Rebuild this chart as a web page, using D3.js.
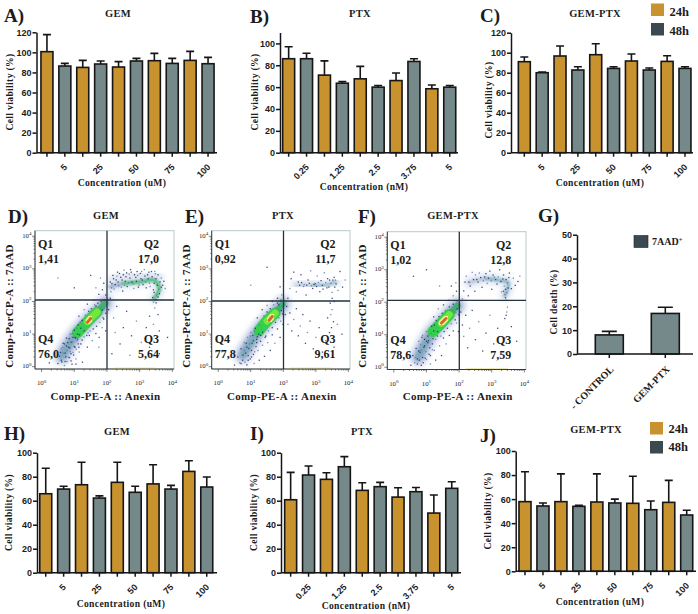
<!DOCTYPE html>
<html><head><meta charset="utf-8">
<script src="https://cdn.jsdelivr.net/npm/d3@7"></script>
<style>
html,body{margin:0;padding:0;background:#fff}
svg{display:block}
text{fill:#1c1c1c}
.serif{font-family:"Liberation Serif",serif;font-weight:700}
.sans{font-family:"Liberation Sans",sans-serif;font-weight:700}
</style></head><body>
<svg id="c" width="698" height="614"></svg>
<script>
// ---------- viability data (24h, 48h alternating) ----------
const umLabels = ["", "5", "", "25", "", "50", "", "75", "", "100"];
const nmLabels = ["", "0.25", "", "1.25", "", "2.5", "", "3.75", "", "5"];
const aValues = [100.7,86.4,85,88.4,85.4,91.4,91.7,89,92,88.7];
const aTops   = [117.7,89,92,91.4,90.8,94,99,94,101,95];
const bValues = [86,86,71,63.6,67.6,60,66,83.5,58.5,60];
const bTops   = [97,91,84,65,79,61.5,73,86,62,61.5];
const cValues = [91,80,96.7,82.7,98,84.3,91.7,82.7,91.3,84.3];
const cTops   = [95.7,80.7,106.7,86,109,86,98.7,84.7,97,86];
const hValues = [65.8,69.7,73.3,62.2,75.3,67,74,69.7,84.4,71.4];
const hTops   = [87,72,92,64,92,72,90,72.8,93.3,79.7];
const iValues = [60.8,81.4,77.8,88.3,68.6,71.7,63,67.5,49.7,70.3];
const iTops   = [83.6,88.9,83.3,96.7,75,75.3,70.8,71,64.7,75.8];
const jValues = [57.9,54.3,57.9,54,57.6,56.8,56.5,51.2,57.3,46.8];
const jTops   = [82.8,56.8,81,54.8,81,60,79,58.4,75.6,50.7];
const gCategories = ["- CONTROL","GEM-PTX"];
const gValues = [8,17];
const gTops = [9.5,19.6];
const ticks120 = [0,20,40,60,80,100,120];
const ticks100 = [0,20,40,60,80,100];
const ticks50 = [0,10,20,30,40,50];

// ---------- flow cytometry: quadrant labels ----------
const gemQuadrants = ["1,41","17,0","5,64","76,0"];
const ptxQuadrants = ["0,92","11,7","9,61","77,8"];
const comboQuadrants = ["1,02","12,8","7,59","78,6"];

// ---------- flow cytometry: density ridges (log10 x, log10 y) ----------
const gemMain = [[.62,.32],[.85,.7],[1.1,1.05],[1.4,1.38],[1.7,1.68],[1.95,1.95]];
const gemArcA = [[2.1,2.45],[2.5,2.55],[3,2.6],[3.45,2.65],[3.6,2.4],[3.45,2.1]];
const gemArcB = [[2.15,2.65],[2.7,2.8],[3.2,2.78],[3.6,2.75]];
const ptxMain = [[.75,.35],[1,.75],[1.25,1.1],[1.5,1.4],[1.75,1.65],[1.98,1.92]];
const ptxArcA = [[2.4,2.5],[2.9,2.5],[3.3,2.5],[3.6,2.6]];
const comboMain = [[.75,.3],[.95,.7],[1.2,1.1],[1.45,1.35],[1.7,1.62],[1.95,1.9]];
const comboArcA = [[2.3,2.6],[2.8,2.72],[3.2,2.68],[3.5,2.6],[3.4,2.2]];

// ---------- flow cytometry: individual events (log10 x, log10 y) ----------
const gemDots = [[.5,.1],[.55,.32],[.6,.55],[.62,.15],[.66,.72],[.7,.04],[.72,.42],[.76,.88],[.78,.16],[.82,.6],[.85,.28],[.88,1],[.9,.75],[.93,.08],[.96,.44],[1,1.12],[1.02,.6],[1.05,.24],[1.1,.85],[1.12,1.28],[1.15,.45],[1.2,.7],[1.25,.14],[1.3,.92],[1.4,.6],[1.46,.96],[1.55,.8],[1.66,1.02],[1.76,.9],[1.85,1.2],[1.9,1.46],[1.96,1.1],[1.3,1.75],[1.14,1.55],[1.4,1.92],[1.6,2.05],[1.75,2.22],[1.86,2.36],[1.66,2.42],[1.9,2.56],[1.96,2.2],[1.8,2.72],[1.5,2.8],[1,2.42],[.5,2.72],[.24,.12],[1.05,.08],[1.75,.6],[2.05,1.75],[2.1,2.1],[2.12,2.3],[2.15,2.55],[2.18,2.8],[2.22,2.38],[2.28,2.66],[2.32,2.9],[2.36,2.48],[2.42,2.74],[2.48,2.32],[2.52,2.96],[2.56,2.62],[2.62,2.46],[2.68,2.84],[2.72,2.98],[2.76,2.6],[2.82,2.4],[2.88,2.74],[2.92,2.92],[2.98,2.5],[3.02,2.86],[3.08,2.66],[3.14,2.98],[3.2,2.42],[3.24,2.82],[3.3,2.56],[3.36,2.92],[3.42,2.36],[3.48,2.85],[3.54,2.5],[3.6,2.24],[3.66,2.72],[3.7,2.5],[3.74,2.62],[3.78,2.4],[3.4,2.12],[3.5,1.96],[3.46,1.8],[3.56,1.6],[3.3,1.55],[3.42,1.3],[3.6,1.1],[3.2,1.2],[2.9,1.4],[2.6,1.7],[2.3,1.85],[2.2,1.5],[2.5,1.2],[2.75,.95],[3.05,.75],[3.3,.6],[3.6,.4],[2.25,1.05],[2.4,.7],[2.15,.4],[2.7,.35],[3.85,.9],
 [2.1,2.6],[2.14,2.42],[2.2,2.7],[2.25,2.52],[2.3,2.78],[2.34,2.6],[2.38,2.86],[2.44,2.44],[2.46,2.66],[2.5,2.82],[2.54,2.5],[2.58,2.76],[2.6,2.88],[2.66,2.58],[2.7,2.72],[2.74,2.9],[2.8,2.54],[2.84,2.82],[2.9,2.62],[2.94,2.8],[2.96,2.44],[3.04,2.7],[3.06,2.92],[3.1,2.52],[3.16,2.78],[3.18,2.6],[3.26,2.7],[3.28,2.9],[3.32,2.46],[3.38,2.76],[3.44,2.56],[3.46,2.92],[3.5,2.7],[3.56,2.82],[3.58,2.38],[3.62,2.6],[3.66,2.44],[3.52,2.2],[3.44,2.28],[3.5,2.06],[3.42,1.98],[3.56,2.14]];
const gemFringe = [[.7,.7],[.78,.5],[.84,.86],[.9,.4],[.94,1.02],[1,.62],[1.04,.88],[1.08,1.18],[1.12,.7],[1.16,.98],[1.18,1.36],[1.24,.82],[1.3,1.1],[1.34,1.58],[1.38,.96],[1.44,1.7],[1.48,1.1],[1.52,1.78],[1.58,1.16],[1.62,1.9],[1.68,1.24],[1.72,1.95],[1.78,1.36],[1.82,2],[1.88,1.5],[1.92,2.05],[1.96,1.64],[.6,.2],[.66,.42],[.72,.16],[.76,.64],[.82,.3],[.86,.58],[.9,.18],[.94,.76],[.98,.36],[1.02,.9],[1.06,.54],[1.1,1],[1.14,.6],[.64,.6],[.58,.44],[.74,.3],[.88,.46],[.8,.74],[.96,.9],[1.08,.8],[1.2,1.18],[1.24,1.42],[1.42,1.04],[1.66,1.86],[1.86,1.74],[1.92,1.78]];
const ptxDots = [[.5,.05],[.6,.3],[.66,.12],[.7,.55],[.75,.2],[.8,.74],[.84,.42],[.88,.06],[.9,.9],[.94,.56],[.98,.24],[1,1.05],[1.04,.72],[1.08,.38],[1.1,.1],[1.14,1.18],[1.18,.84],[1.22,.5],[1.26,.2],[1.3,.96],[1.36,.66],[1.42,.32],[1.46,.94],[1.52,.74],[1.6,.5],[1.66,.98],[1.74,.72],[1.82,1.16],[1.9,.9],[1.98,1.3],[1.2,1.5],[1.35,1.75],[1.5,1.88],[1.66,2],[1.82,2.1],[1.95,2.2],[1.9,2.45],[1.5,3.05],[1,2.5],[2.06,1.6],[2.1,1.85],[2.14,1.3],[2.2,1.65],[2.26,1.1],[2.32,1.45],[2.4,1.78],[2.46,.95],[2.52,1.25],[2.6,1.6],[2.68,.72],[2.74,1.05],[2.82,1.4],[2.92,.55],[3,.9],[3.1,1.2],[3.2,.45],[3.3,.8],[3.36,1.5],[3.42,1.05],[3.5,1.75],[3.44,1.95],[3.56,.6],[3.66,1.3],[3.8,1],[2.14,2.1],[2.2,2.4],[2.24,2.7],[2.32,2.9],[2.4,2.3],[2.46,2.6],[2.54,2.82],[2.62,2.46],[2.7,2.2],[2.76,2.66],[2.84,2.94],[2.9,2.4],[2.98,2.55],[3.04,2.78],[3.12,2.3],[3.2,2.5],[3.26,2.88],[3.34,2.42],[3.42,2.66],[3.5,2.28],[3.56,2.74],[3.62,2.54],[3.68,2.34],[3.74,2.92],[3.82,2.44],[3.9,2.66],
 [2.5,2.5],[2.56,2.58],[2.64,2.52],[2.72,2.5],[2.8,2.56],[2.86,2.48],[2.94,2.52],[3.02,2.46],[3.08,2.58],[3.16,2.64],[3.22,2.38],[3.3,2.58],[3.36,2.7],[3.4,2.44],[3.46,2.56],[3.52,2.66],[3.58,2.44],[3.6,2.66],[3.5,2.1],[3.56,2],[3.46,1.6],[3.54,1.38],[3.48,1.2]];
const ptxFringe = [[.8,.5],[.86,.72],[.92,.34],[.98,.94],[1.02,.5],[1.08,.8],[1.12,1.1],[1.16,.62],[1.2,.92],[1.26,1.28],[1.3,.78],[1.36,1.06],[1.4,1.56],[1.44,.9],[1.5,1.68],[1.54,1.1],[1.6,1.78],[1.66,1.2],[1.7,1.9],[1.76,1.36],[1.82,1.95],[1.86,1.5],[1.92,2.04],[1.98,1.62],[1.96,1.84],[.7,.1],[.76,.36],[.82,.14],[.88,.6],[.92,.2],[.96,.7],[1.02,.3],[1.06,.96],[1.12,.46],[1.18,.74],[1.24,1],[1.92,1.4],[1.86,1.9],[1.94,1.72]];
const comboDots = [[.52,.06],[.58,.36],[.64,.14],[.68,.58],[.72,.26],[.76,.8],[.8,.46],[.84,.06],[.88,.98],[.92,.62],[.96,.28],[1,1.1],[1.04,.76],[1.08,.4],[1.12,.1],[1.16,1.26],[1.2,.88],[1.24,.52],[1.28,.22],[1.34,.96],[1.4,.66],[1.46,.36],[1.52,.9],[1.6,.72],[1.7,.98],[1.82,1.12],[1.92,1.36],[1.98,1.1],[1.22,1.55],[1.36,1.8],[1.52,1.92],[1.68,2.06],[1.82,2.2],[1.92,2.34],[1.76,2.5],[1.9,2.6],[1,3],[.6,2.8],[1.4,2.5],[2.05,1.7],[2.1,1.3],[2.14,.95],[2.2,1.6],[2.26,.6],[2.32,1.2],[2.4,1.75],[2.5,.85],[2.6,1.4],[2.72,.5],[2.82,1.05],[2.94,1.6],[3.06,.72],[3.18,1.2],[3.3,.42],[3.4,.9],[3.44,1.6],[3.48,1.85],[3.6,1.25],[3.76,.8],[2.1,2.1],[2.14,2.35],[2.18,2.62],[2.22,2.8],[2.28,2.2],[2.34,2.5],[2.4,2.92],[2.48,2.34],[2.54,2.7],[2.62,2.9],[2.7,2.46],[2.78,2.78],[2.86,2.58],[2.94,2.96],[3,2.4],[3.08,2.78],[3.16,2.56],[3.24,3],[3.3,2.32],[3.36,2.84],[3.42,2.14],[3.48,2.6],[3.54,2.9],[3.6,2.42],[3.66,2.74],[3.72,2.52],[3.8,2.64],[3.86,2.8],
 [2.3,2.62],[2.44,2.7],[2.5,2.84],[2.58,2.62],[2.66,2.76],[2.74,2.66],[2.82,2.88],[2.9,2.74],[2.98,2.66],[3.04,2.84],[3.12,2.7],[3.2,2.78],[3.28,2.64],[3.34,2.72],[3.38,2.5],[3.42,2.4],[3.44,2.7],[3.46,2.3],[3.5,2.44],[3.52,2.76],[3.4,2.24],[3.36,2.34],[3.44,2.06],[3.46,1.7],[3.4,1.5]];
const comboFringe = [[.76,.5],[.82,.7],[.88,.3],[.94,.86],[.98,.48],[1.04,.96],[1.1,.6],[1.14,1.04],[1.18,.72],[1.24,1.3],[1.28,.86],[1.34,1.1],[1.38,1.56],[1.44,.96],[1.48,1.66],[1.54,1.1],[1.58,1.74],[1.64,1.2],[1.7,1.86],[1.76,1.34],[1.82,1.94],[1.88,1.46],[1.94,2.02],[1.98,1.62],[1.94,1.8],[.66,.3],[.72,.1],[.78,.22],[.84,.52],[.9,.14],[.94,.66],[1,.24],[1.06,.82],[1.12,.36],[1.18,.54],[1.22,1.12],[1.3,1.44],[1.9,1.68],[.86,.92],[1,.8]];

const svg = d3.select("#c");
const COL24 = "#c8922f", COL48 = "#75888a", DARK = "#3a4a50", INK = "#161616";

function label(x, y, s, cls, size, opts = {}) {
  const t = svg.append("text").attr("class", cls).attr("x", x).attr("y", y)
    .attr("font-size", size).attr("text-anchor", opts.anchor || "start").text(s);
  if (opts.rotate != null) t.attr("transform", `rotate(${opts.rotate} ${x} ${y})`);
  if (opts.spacing) t.attr("letter-spacing", opts.spacing);
  return t;
}

function barPanel(p) {
  const y = d3.scaleLinear().domain([0, p.yMax]).range([p.y0, p.yTop]);
  const x = d3.scaleBand().domain(d3.range(p.values.length)).range(p.xRange)
    .paddingInner(p.padding).paddingOuter(p.padding / 2);
  const g = svg.append("g");
  const cx = i => x(i) + x.bandwidth() / 2;
  g.selectAll(".e").data(p.tops).join("path")
    .attr("d", (d, i) => `M${cx(i)},${y(p.values[i])}V${y(d)}M${cx(i) - p.cap},${y(d)}H${cx(i) + p.cap}`)
    .attr("fill", "none").attr("stroke", INK).attr("stroke-width", 1.6);
  g.selectAll(".b").data(p.values).join("rect")
    .attr("x", (d, i) => x(i)).attr("width", x.bandwidth())
    .attr("y", d => y(d)).attr("height", d => p.y0 - y(d))
    .attr("fill", (d, i) => p.color(i)).attr("stroke", INK).attr("stroke-width", 1.6);
  const ya = g.append("g").attr("transform", `translate(${p.xAxis},0)`)
    .call(d3.axisLeft(y).tickValues(p.ticks).tickSize(4).tickPadding(1).tickSizeOuter(0));
  ya.select(".domain").attr("stroke", INK).attr("stroke-width", 1.5);
  ya.selectAll("line").attr("stroke", INK).attr("stroke-width", 1.5);
  ya.selectAll("text").attr("class", "sans").attr("font-size", 9).attr("font-family", null);
  g.append("path").attr("d", `M${p.xAxis},${p.y0}H${p.xEnd}`).attr("stroke", INK).attr("stroke-width", 1.5);
  const xa = g.append("g").attr("transform", `translate(0,${p.y0})`)
    .call(d3.axisBottom(x).tickSize(4).tickSizeOuter(0).tickFormat(i => p.labels[i]));
  xa.select(".domain").remove();
  xa.selectAll("line").attr("stroke", INK).attr("stroke-width", 1.5);
  xa.selectAll("text").attr("class", p.catClass || "sans").attr("font-size", p.catSize || 9).attr("font-family", null)
    .attr("text-anchor", "end").attr("dy", 0).attr("y", 0)
    .attr("transform", `translate(${p.catDx || 3},${p.catDy || 15}) rotate(-45)`);
}

const viabilityCommon = { padding: .33, cap: 4 };
const alt = i => i % 2 ? COL48 : COL24;
const panels = [
 { values:aValues, tops:aTops, labels:umLabels, y0:152.7, yTop:32.3, yMax:120, ticks:ticks120, xAxis:36.5, xRange:[38,217], xEnd:217 },
 { values:bValues, tops:bTops, labels:nmLabels, y0:152.7, yTop:32.5, yMax:110, ticks:ticks100, xAxis:280, xRange:[279.7,458.7], xEnd:458 },
 { values:cValues, tops:cTops, labels:umLabels, y0:152.7, yTop:32.7, yMax:120, ticks:ticks120, xAxis:511, xRange:[515.4,693.9], xEnd:693 },
 { values:hValues, tops:hTops, labels:umLabels, y0:572.7, yTop:452.7, yMax:100, ticks:ticks100, xAxis:37, xRange:[36.8,215.7], xEnd:217 },
 { values:iValues, tops:iTops, labels:nmLabels, y0:572.7, yTop:452.7, yMax:100, ticks:ticks100, xAxis:281, xRange:[281.7,460.7], xEnd:461 },
 { values:jValues, tops:jTops, labels:umLabels, y0:571.3, yTop:451, yMax:100, ticks:ticks100, xAxis:515.7, xRange:[516,695.7], xEnd:696 }
];
panels.forEach(p => barPanel({ ...viabilityCommon, color: alt, ...p }));
barPanel({ values:gValues, tops:gTops, labels:gCategories, y0:354, yTop:234.7, yMax:50, ticks:ticks50,
  xAxis:577, xRange:[581.3,693.3], xEnd:693, padding:.5, cap:7.5, color:()=>COL48,
  catClass:"serif", catSize:10, catDx:5, catDy:16 });

// ---------- flow plots ----------
const defs = svg.append("defs");
[["b1",.6],["b2",1.3],["b3",2.6]].forEach(([id,s]) =>
  defs.append("filter").attr("id", id).attr("x","-40%").attr("y","-40%").attr("width","180%").attr("height","180%")
    .append("feGaussianBlur").attr("stdDeviation", s));

const decades = [0,1,2,3,4];
function flowPanel(f) {
  const x = d3.scaleLog().domain([Math.pow(10,-.2), Math.pow(10,4.05)]).range([f.left, f.right]);
  const y = d3.scaleLog().domain([Math.pow(10,-.07), Math.pow(10,4.17)]).range([f.bottom, f.top]);
  const lx = v => x(Math.pow(10, v)), ly = v => y(Math.pow(10, v));
  const g = svg.append("g");
  const line = d3.line().x(d => lx(d[0])).y(d => ly(d[1])).curve(d3.curveCatmullRom);
  const stroke = (pts, col, w, blur, op = 1) => g.append("path").attr("d", line(pts)).attr("fill", "none")
    .attr("stroke", col).attr("stroke-width", w).attr("stroke-linecap", "round")
    .attr("stroke-opacity", op).attr("filter", blur ? `url(#${blur})` : null);
  const strength = f.strength;
  // main population
  stroke(f.main, "#d3dcee", 20, "b3", .7);
  stroke(f.main, "#3d5a94", 10, "b3", .55);
  stroke(f.main.slice(0, 3), "#6fb8b4", 5, "b2", .55);
  stroke(f.main.slice(2, 5), "#2fd04a", 11, "b1", .95);
  stroke(f.main.slice(4), "#2fb060", 6, "b1", .8);
  stroke(f.main.slice(3, 5), "#74e63a", 7, "b1");
  // upper arcs
  stroke(f.arcA, "#d2dcec", 12, "b3", .6);
  if (f.arcB) stroke(f.arcB, "#d2dcec", 10, "b3", .6);
  stroke(f.arcA, "#4a6a9a", 4, "b2", strength * .45);
  stroke(f.arcA.slice(1), f.arcCol, 3, "b2", strength * .8);
  // hot core
  const core = d3.line().x(d => lx(d[0])).y(d => ly(d[1]));
  g.append("path").attr("d", core(f.core)).attr("stroke", "#f4f2a0").attr("stroke-width", 6).attr("stroke-linecap","round").attr("filter","url(#b1)");
  g.append("path").attr("d", core(f.core)).attr("stroke", "#d9662a").attr("stroke-width", 3).attr("stroke-linecap","round").attr("filter","url(#b1)");
  // events
  g.selectAll(".d").data(f.dots.concat(f.fringe)).join("rect")
    .attr("x", d => lx(d[0]) - .6).attr("y", d => ly(d[1]) - .6).attr("width", 1.3).attr("height", 1.3)
    .attr("fill", (d, i) => i % 3 === 2 ? "#5d78ad" : "#1f2f6a").attr("opacity", .85);
  // frame
  g.append("rect").attr("x", f.left).attr("y", f.top).attr("width", f.right - f.left).attr("height", f.bottom - f.top)
    .attr("fill", "none").attr("stroke", "#b9c9cc").attr("stroke-width", 1);
  g.append("path").attr("d", `M${lx(2.2)},${f.bottom - .8}H${lx(3.5)}`).attr("stroke", "#efe9b0").attr("stroke-width", 1.6);
  g.append("path").attr("d", `M${f.left},${f.top}V${f.bottom}H${f.right}`).attr("fill", "none").attr("stroke", "#2a2a2a").attr("stroke-width", .9);
  // quadrant gate
  g.append("path").attr("d", `M${f.gateX},${f.top}V${f.bottom}M${f.left},${f.gateY}H${f.right}`)
    .attr("stroke", "#25323f").attr("stroke-width", 1.3).attr("fill", "none");
  // ticks
  const minor = d3.merge(d3.range(0, 4).map(k => [1,2,3,4,5,6,7,8,9].map(m => m * Math.pow(10, k)))).concat([1e4]);
  g.selectAll(".tx").data(minor).join("path")
    .attr("d", d => `M${x(d)},${f.bottom}v${Number.isInteger(Math.log10(d)) ? 3 : 1.5}`).attr("stroke", "#333").attr("stroke-width", .6);
  g.selectAll(".ty").data(minor).join("path")
    .attr("d", d => `M${f.left},${y(d)}h${Number.isInteger(Math.log10(d)) ? -3 : -1.5}`).attr("stroke", "#333").attr("stroke-width", .6);
  const tick = (px, py, k, anchor) => {
    const t = g.append("text").attr("x", px).attr("y", py).attr("text-anchor", anchor)
      .attr("font-family", '"Liberation Serif",serif').attr("font-size", 6.8).attr("fill", "#444").text("10");
    t.append("tspan").attr("dy", -2.5).attr("font-size", 5).text(k);
  };
  decades.forEach(k => { tick(lx(k), f.bottom + 16, k, "middle"); tick(f.left - 3.5, ly(k) + 1.5, k, "end"); });
  // quadrant labels
  const rightX = f.gateX + 52;
  label(f.left + 3, f.top + 17.5, "Q1", "serif", 12);
  label(f.left + 3, f.top + 32.5, f.q[0], "serif", 12);
  label(rightX, f.top + 17.5, "Q2", "serif", 12, { anchor: "end" });
  label(rightX, f.top + 32.5, f.q[1], "serif", 12, { anchor: "end" });
  label(rightX, f.top + 112.5, "Q3", "serif", 12, { anchor: "end" });
  label(rightX, f.top + 127.5, f.q[2], "serif", 12, { anchor: "end" });
  label(f.left + 3, f.top + 112.5, "Q4", "serif", 12);
  label(f.left + 3, f.top + 127.5, f.q[3], "serif", 12);
  label((f.left + f.right) / 2 + 1, 400, "Comp-PE-A :: Anexin", "serif", 11, { anchor: "middle", spacing: .35 });
  label(f.yTitleX, 306, "Comp-PerCP-A :: 7AAD", "serif", 11, { anchor: "middle", rotate: -90, spacing: .35 });
}

flowPanel({ left:35, right:174, top:230.7, bottom:369, gateX:107, gateY:300, q:gemQuadrants, main:gemMain, arcA:gemArcA, arcB:gemArcB,
  arcCol:"#35d05a", strength:.95, core:[[1.4,1.36],[1.5,1.48]], dots:gemDots, fringe:gemFringe, yTitleX:13 });
flowPanel({ left:211.7, right:350, top:230.7, bottom:369, gateX:283.5, gateY:301, q:ptxQuadrants, main:ptxMain, arcA:ptxArcA,
  arcCol:"#5aa0a8", strength:.4, core:[[1.56,1.42],[1.66,1.54]], dots:ptxDots, fringe:ptxFringe, yTitleX:190 });
flowPanel({ left:387.3, right:526, top:231.7, bottom:369.5, gateX:459.3, gateY:300.3, q:comboQuadrants, main:comboMain, arcA:comboArcA,
  arcCol:"#4aa0a8", strength:.55, core:[[1.46,1.36],[1.6,1.5]], dots:comboDots, fringe:comboFringe, yTitleX:366 });

// ---------- text ----------
const panelLetters = [["A)",4,22],["B)",250,23],["C)",480,22],["D)",8,223],["E)",185,223],["F)",358,223],["G)",538,222],["H)",4,440],["I)",250,440],["J)",480,442]];
panelLetters.forEach(([s, x, y]) => label(x, y, s, "serif", 19));
const titles = [["GEM",118,17],["PTX",360,17],["GEM-PTX",595,17],["GEM",106,219],["PTX",283,219],["GEM-PTX",453,219],["GEM",117,435],["PTX",362,435],["GEM-PTX",596,433]];
titles.forEach(([s, x, y]) => label(x, y, s, "serif", 10.5, { anchor: "middle", spacing: .3 }));
const xTitles = [["Concentration (uM)",122,186],["Concentration (nM)",364,190],["Concentration (uM)",600,186],["Concentration (uM)",121,606.5],["Concentration (nM)",366,609],["Concentration (uM)",600,605]];
xTitles.forEach(([s, x, y]) => label(x, y, s, "serif", 9.6, { anchor: "middle", spacing: .35 }));
const yTitles = [[12.5,92],[258,92],[491.5,100],[12,512.5],[257,512.5],[491,511]];
yTitles.forEach(([x, y]) => label(x, y, "Cell viability (%)", "serif", 9.6, { anchor: "middle", rotate: -90, spacing: .35 }));
label(556.5, 302, "Cell death (%)", "serif", 9.6, { anchor: "middle", rotate: -90, spacing: .35 });

// ---------- legends ----------
const legendRows = [[651,3.5,"24h",COL24,15.5],[651,23,"48h",DARK,35],[650,422,"24h",COL24,432.7],[650,441,"48h",DARK,450.5]];
legendRows.forEach(([x, y, s, col, base]) => {
  svg.append("rect").attr("x", x).attr("y", y).attr("width", 13).attr("height", 12.5).attr("fill", col);
  label(x + 18.5, base, s, "serif", 12.5);
});
svg.append("rect").attr("x", 634).attr("y", 235.5).attr("width", 14).attr("height", 12).attr("fill", DARK).attr("stroke", "#222").attr("stroke-width", .6);
const aad = label(652, 245, "7AAD", "serif", 10);
aad.append("tspan").attr("dy", -3).attr("font-size", 6.5).text("+");
</script>
</body></html>
